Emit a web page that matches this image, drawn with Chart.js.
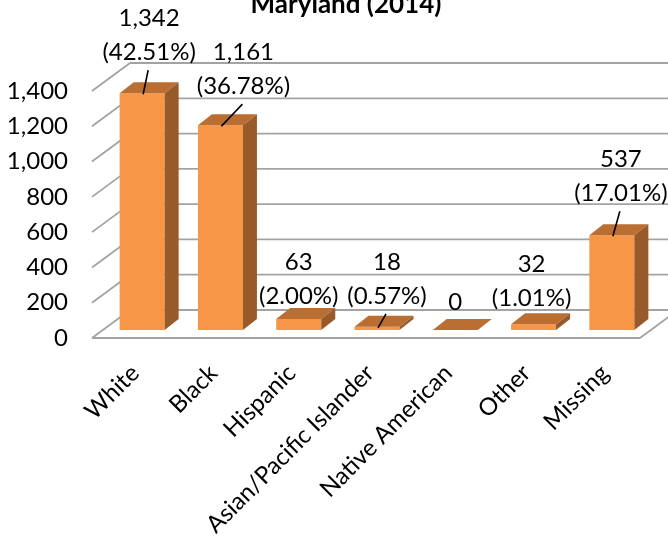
<!DOCTYPE html>
<html><head><meta charset="utf-8">
<script src="https://cdn.jsdelivr.net/npm/chart.js@4/dist/chart.umd.min.js"></script>
<style>html,body{margin:0;padding:0;background:#fff;overflow:hidden}#wrap{width:668px;height:538px;position:relative}</style>
</head><body><div id="wrap"><canvas id="c"></canvas></div>
<script>
const TITLE = 'Maryland (2014)';
const categories = ['White','Black','Hispanic','Asian/Pacific Islander','Native American','Other','Missing'];
const counts = [1342, 1161, 63, 18, 0, 32, 537];
const percents = ['42.51%', '36.78%', '2.00%', '0.57%', null, '1.01%', '17.01%'];
const yMin = 0, yMax = 1400, yStep = 200;

const FONT = 'Lato, "Open Sans", sans-serif';
const FRONT = '#F79646', TOP = '#BA6E32', SIDE = '#995A29', GRID = '#a3a3a3';
// 3D offsets relative to the bar plane
const WALL = {fx: -11, fy: 8, bx: 27, by: -20};
const BARD = {dx: 14, dy: -11};
// label nudges (relative to bar front-top centre) and leader flags
const labelPos = [[7,-41],[23,-39],[0,-23],[10,-31],[0,-28],[-2,-26],[9,-42]];
const leaders = [true, true, false, true, false, false, true];

function seg(ctx, x1, y1, x2, y2){ ctx.beginPath(); ctx.moveTo(x1,y1); ctx.lineTo(x2,y2); ctx.stroke(); }
function poly(ctx, pts, fill){ ctx.beginPath(); ctx.moveTo(pts[0][0],pts[0][1]); for (let i=1;i<pts.length;i++) ctx.lineTo(pts[i][0],pts[i][1]); ctx.closePath(); ctx.fillStyle=fill; ctx.fill(); }

const bar3d = {
  id: 'bar3d',
  beforeDatasetsDraw(chart){
    const {ctx, chartArea: a, scales: {y}} = chart;
    ctx.save();
    ctx.strokeStyle = GRID; ctx.lineWidth = 1.8;
    for (let v = yMin; v <= yMax; v += yStep){
      const py = y.getPixelForValue(v);
      seg(ctx, a.left + WALL.bx, py + WALL.by, a.right + WALL.bx + 30, py + WALL.by);
      seg(ctx, a.left + WALL.fx, py + WALL.fy, a.left + WALL.bx, py + WALL.by);
    }
    const p0 = y.getPixelForValue(0);
    seg(ctx, a.left + WALL.fx, p0 + WALL.fy, a.right + WALL.fx, p0 + WALL.fy);
    seg(ctx, a.right + WALL.fx, p0 + WALL.fy, a.right + WALL.bx, p0 + WALL.by);
    ctx.restore();
  },
  afterDatasetsDraw(chart){
    const {ctx} = chart;
    const meta = chart.getDatasetMeta(0);
    ctx.save();
    meta.data.forEach((el, i) => {
      const {x, y, base, width} = el.getProps(['x','y','base','width'], true);
      const l = x - width/2, r = x + width/2;
      poly(ctx, [[l,y],[r,y],[r+BARD.dx,y+BARD.dy],[l+BARD.dx,y+BARD.dy]], TOP);
      poly(ctx, [[r,y],[r+BARD.dx,y+BARD.dy],[r+BARD.dx,base+BARD.dy],[r,base]], SIDE);
    });
    // data labels
    ctx.fillStyle = '#000'; ctx.font = '24px ' + FONT;
    ctx.textAlign = 'center'; ctx.textBaseline = 'middle';
    meta.data.forEach((el, i) => {
      const {x, y} = el.getProps(['x','y'], true);
      const lx = x + labelPos[i][0], ly = y + labelPos[i][1];
      const valTxt = counts[i].toLocaleString('en-US');
      if (percents[i]) {
        ctx.fillText(valTxt, lx, ly - 34);
        ctx.fillText('(' + percents[i] + ')', lx, ly);
      } else {
        ctx.fillText(valTxt, lx, ly);
      }
      if (leaders[i]) {
        ctx.strokeStyle = '#000'; ctx.lineWidth = 1.6;
        seg(ctx, x + 1, y + 1, lx - 1, ly + 18);
      }
    });
    // title
    ctx.font = 'bold 26px ' + FONT; ctx.textBaseline = 'alphabetic';
    ctx.fillText(TITLE, 346, 13);
    ctx.restore();
  }
};

new Chart(document.getElementById('c'), {
  type: 'bar',
  data: {
    labels: categories,
    datasets: [{ data: counts, backgroundColor: FRONT, borderWidth: 0, barPercentage: 0.575, categoryPercentage: 1 }]
  },
  options: {
    responsive: true, maintainAspectRatio: false, animation: false,
    layout: { padding: { top: 83, right: 17, left: 0, bottom: 0 } },
    plugins: { legend: { display: false }, tooltip: { enabled: false }, title: { display: false } },
    scales: {
      x: {
        grid: { display: false, drawTicks: false }, border: { display: false },
        ticks: { color: '#000', font: { family: FONT, size: 24 }, minRotation: 45, maxRotation: 45, autoSkip: false, padding: 29, labelOffset: -7 },
        afterFit(s){ s.height = 208; }
      },
      y: {
        min: yMin, max: yMax,
        grid: { display: false, drawTicks: false }, border: { display: false },
        ticks: { stepSize: yStep, color: '#000', font: { family: FONT, size: 24 }, padding: 35, labelOffset: 8 },
        afterFit(s){ s.width = 103; }
      }
    }
  },
  plugins: [bar3d]
});
</script></body></html>
